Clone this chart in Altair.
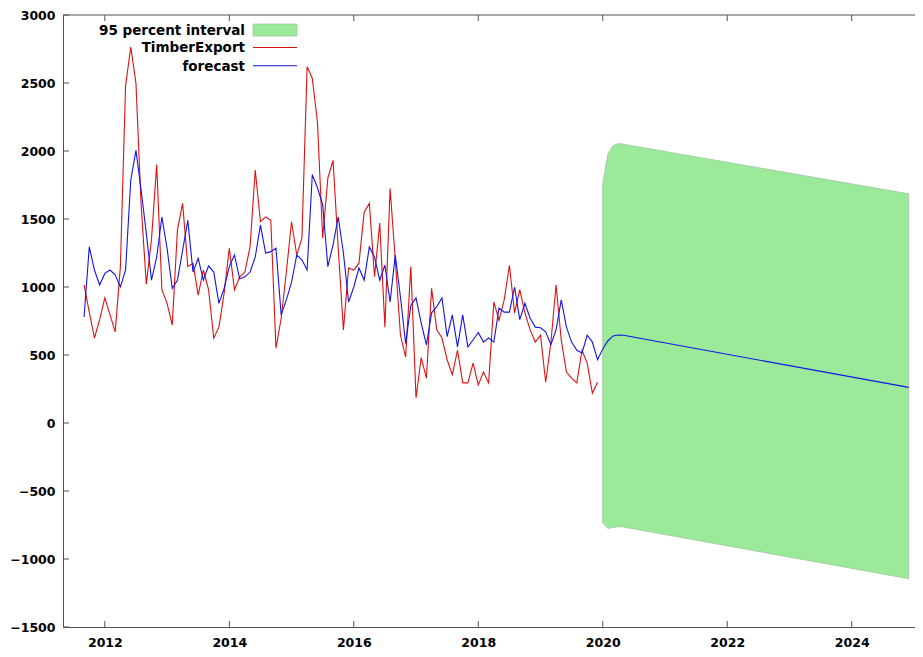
import altair as alt
import pandas as pd

# ---------------- data ----------------
START_YEAR, START_MONTH = 2011, 9

timber_export = [
    1015, 815, 625, 760, 920, 795, 670, 1150, 2480, 2765,
    2500, 1600, 1020, 1350, 1900, 980, 880, 720, 1420, 1615,
    1150, 1175, 940, 1125, 980, 625, 705, 955, 1285, 980,
    1075, 1110, 1295, 1860, 1480, 1515, 1490, 550, 770, 1110,
    1480, 1235, 1360, 2620, 2535, 2210, 1360, 1800, 1930, 1285,
    685, 1140, 1125, 1175, 1550, 1615, 1075, 1470, 705, 1725,
    1200, 645, 485, 1150, 185, 480, 330, 990, 685, 625,
    465, 355, 535, 295, 295, 440, 280, 375, 295, 890,
    755, 905, 1160, 810, 980, 810, 685, 595, 645, 300,
    590, 1015, 610, 375, 330, 295, 535, 440, 220, 300,
]

fitted = [
    780, 1295, 1125, 1015, 1100, 1125, 1090, 1000, 1125, 1785,
    2005, 1710, 1395, 1050, 1220, 1515, 1285, 990, 1050, 1270,
    1490, 1110, 1210, 1050, 1155, 1110, 880, 990, 1150, 1235,
    1060, 1075, 1110, 1220, 1455, 1250, 1260, 1285, 795, 905,
    1035, 1235, 1200, 1125, 1825, 1730, 1605, 1150, 1310, 1515,
    1250, 890, 1000, 1140, 1050, 1295, 1220, 1050, 1160, 890,
    1235, 925, 585, 865, 920, 735, 575, 810, 855, 920,
    635, 795, 560, 795, 560, 610, 665, 595, 625, 595,
    845, 815, 815, 1000, 760, 880, 770, 705, 700, 670,
    575, 685, 905, 705, 595, 535, 515, 645, 595, 465,
]

fc_dates = ["2020-01", "2020-02", "2020-03", "2020-04", "2020-05", "2024-12"]
fc_values = [544, 605, 640, 647, 645, 262]
fc_upper = [1760, 1980, 2040, 2055, 2050, 1685]
fc_lower = [-735, -775, -768, -762, -765, -1145]

legend_labels = ["95 percent interval", "TimberExport", "forecast"]
y_ticks = [-1500, -1000, -500, 0, 500, 1000, 1500, 2000, 2500, 3000]
x_ticks = [2012, 2014, 2016, 2018, 2020, 2022, 2024]

# ---------------- tables ----------------
def month_index_to_year(i):
    m0 = START_MONTH - 1 + i
    return START_YEAR + m0 // 12 + (m0 % 12) / 12


def ym_to_year(s):
    y, m = s.split("-")
    return int(y) + (int(m) - 1) / 12


actual_df = pd.DataFrame({
    "t": [month_index_to_year(i) for i in range(len(timber_export))],
    "v": timber_export,
})
blue_t = [month_index_to_year(i) for i in range(len(fitted))] + [ym_to_year(d) for d in fc_dates]
blue_df = pd.DataFrame({"t": blue_t, "v": fitted + fc_values})
band_df = pd.DataFrame({
    "t": [ym_to_year(d) for d in fc_dates],
    "lo": fc_lower,
    "hi": fc_upper,
})
yt_df = pd.DataFrame({"v": y_ticks})
xt_df = pd.DataFrame({"t": x_ticks})
one = pd.DataFrame({"a": [0]})

W, H = 852, 612
FONT = "DejaVu Sans"
FRAME = "#505050"
PX_PER_YEAR = 62.24
X0 = 2011.328

xs = alt.Scale(domain=[X0, X0 + W / PX_PER_YEAR], nice=False, zero=False)
ys = alt.Scale(domain=[-1500, 3000], nice=False, zero=False)

x_axis = alt.Axis(values=x_ticks, format="d", ticks=False, domain=True, grid=False,
                  labelPadding=9, title=None)
y_axis = alt.Axis(values=y_ticks, format="d", ticks=False, domain=True, grid=False,
                  labelPadding=8, title=None)

band = alt.Chart(band_df).mark_area(color="#9aea9a", stroke="#a3c4a3", strokeWidth=0.8).encode(
    x=alt.X("t:Q", scale=xs, axis=x_axis),
    y=alt.Y("lo:Q", scale=ys, axis=y_axis),
    y2="hi:Q",
)

red = alt.Chart(actual_df).mark_line(color="#e01010", strokeWidth=1.1).encode(
    x=alt.X("t:Q", scale=xs), y=alt.Y("v:Q", scale=ys)
)
blue = alt.Chart(blue_df).mark_line(color="#1414e6", strokeWidth=1.1).encode(
    x=alt.X("t:Q", scale=xs), y=alt.Y("v:Q", scale=ys)
)

# inward ticks (gnuplot style) and the top border
tl = alt.Chart(yt_df).mark_rule(color=FRAME).encode(y=alt.Y("v:Q", scale=ys), x=alt.value(0), x2=alt.value(6))
tb = alt.Chart(xt_df).mark_rule(color=FRAME).encode(x=alt.X("t:Q", scale=xs), y=alt.value(H - 6), y2=alt.value(H))
tt = alt.Chart(xt_df).mark_rule(color=FRAME).encode(x=alt.X("t:Q", scale=xs), y=alt.value(0), y2=alt.value(6))
top_border = alt.Chart(one).mark_rule(color=FRAME).encode(x=alt.value(0), x2=alt.value(W), y=alt.value(0))

# legend (top-left, labels right-aligned, swatches on the right)
LX = 182
leg_layers = []
for label, yc in zip(legend_labels, [15.7, 33.3, 51.7]):
    leg_layers.append(
        alt.Chart(one).mark_text(align="right", baseline="middle", font=FONT, fontSize=13.5,
                                 fontWeight="bold", color="black").encode(
            x=alt.value(LX), y=alt.value(yc), text=alt.value(label))
    )
leg_rect = alt.Chart(one).mark_rect(color="#9aea9a", stroke="#a3c4a3", strokeWidth=0.8).encode(
    x=alt.value(190), x2=alt.value(234), y=alt.value(9), y2=alt.value(21))
leg_red = alt.Chart(one).mark_rule(color="#e01010", strokeWidth=1.1).encode(
    x=alt.value(190), x2=alt.value(234), y=alt.value(32.5))
leg_blue = alt.Chart(one).mark_rule(color="#1414e6", strokeWidth=1.1).encode(
    x=alt.value(190), x2=alt.value(234), y=alt.value(50.7))

chart = alt.layer(
    band, red, blue, tl, tb, tt, top_border, *leg_layers, leg_rect, leg_red, leg_blue
).properties(
    width=W, height=H,
    padding={"left": 55, "top": 7, "right": 0, "bottom": 22},
    autosize=alt.AutoSizeParams(type="none"),
    background="white",
).configure_view(
    stroke=None
).configure_axis(
    labelFont=FONT, labelFontSize=12.5, labelFontWeight="bold", labelColor="black",
    domainColor=FRAME, domainWidth=1
)

chart.save("out.html", embed_options={"renderer": "svg", "actions": False})
